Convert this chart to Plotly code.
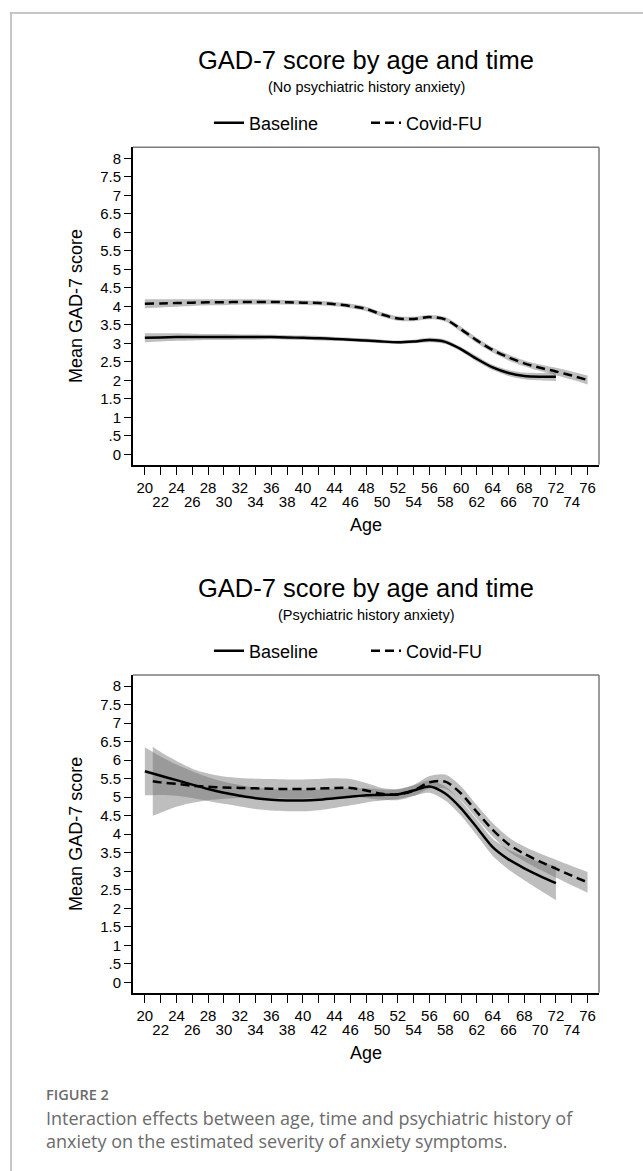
import plotly.graph_objects as go

# ---------------- data ----------------
# Panel A: no psychiatric history of anxiety
ages_a_base = [20, 22, 24, 26, 28, 30, 32, 34, 36, 38, 40, 42, 44, 46, 48, 50, 52, 54, 56, 58, 60, 62, 64, 66, 68, 70, 72]
mean_a_base = [3.15, 3.16, 3.17, 3.17, 3.17, 3.17, 3.17, 3.17, 3.17, 3.16, 3.15, 3.14, 3.12, 3.10, 3.08, 3.05, 3.03, 3.05, 3.09, 3.04, 2.84, 2.58, 2.35, 2.20, 2.12, 2.10, 2.10]
ci_a_base = [0.12, 0.11, 0.10, 0.09, 0.08, 0.08, 0.07, 0.07, 0.06, 0.06, 0.06, 0.06, 0.05, 0.05, 0.05, 0.05, 0.05, 0.05, 0.06, 0.06, 0.06, 0.07, 0.07, 0.08, 0.09, 0.10, 0.12]

ages_a_fu = [20, 22, 24, 26, 28, 30, 32, 34, 36, 38, 40, 42, 44, 46, 48, 50, 52, 54, 56, 58, 60, 62, 64, 66, 68, 70, 72, 74, 76]
mean_a_fu = [4.07, 4.08, 4.09, 4.10, 4.11, 4.11, 4.12, 4.12, 4.12, 4.11, 4.10, 4.09, 4.06, 4.01, 3.93, 3.78, 3.67, 3.66, 3.71, 3.65, 3.38, 3.08, 2.82, 2.62, 2.46, 2.34, 2.24, 2.13, 2.01]
ci_a_fu = [0.12, 0.11, 0.10, 0.09, 0.08, 0.08, 0.07, 0.07, 0.06, 0.06, 0.06, 0.06, 0.06, 0.06, 0.06, 0.06, 0.06, 0.06, 0.06, 0.06, 0.07, 0.07, 0.07, 0.08, 0.08, 0.09, 0.10, 0.11, 0.12]

# Panel B: psychiatric history of anxiety
ages_b_base = [20, 22, 24, 26, 28, 30, 32, 34, 36, 38, 40, 42, 44, 46, 48, 50, 52, 54, 56, 58, 60, 62, 64, 66, 68, 70, 72]
mean_b_base = [5.70, 5.58, 5.46, 5.34, 5.22, 5.12, 5.04, 4.97, 4.93, 4.91, 4.91, 4.93, 4.97, 5.01, 5.05, 5.06, 5.08, 5.18, 5.29, 5.10, 4.70, 4.18, 3.65, 3.32, 3.08, 2.87, 2.68]
ci_b_base = [0.65, 0.52, 0.42, 0.36, 0.32, 0.30, 0.29, 0.29, 0.29, 0.29, 0.29, 0.28, 0.26, 0.23, 0.19, 0.15, 0.13, 0.14, 0.17, 0.19, 0.20, 0.21, 0.23, 0.27, 0.32, 0.38, 0.46]

ages_b_fu = [21, 22, 24, 26, 28, 30, 32, 34, 36, 38, 40, 42, 44, 46, 48, 50, 52, 54, 56, 58, 60, 62, 64, 66, 68, 70, 72, 74, 76]
mean_b_fu = [5.43, 5.40, 5.36, 5.31, 5.28, 5.26, 5.25, 5.24, 5.23, 5.22, 5.22, 5.23, 5.25, 5.25, 5.18, 5.09, 5.07, 5.18, 5.40, 5.42, 5.10, 4.60, 4.12, 3.73, 3.47, 3.26, 3.07, 2.88, 2.70]
ci_b_fu = [0.93, 0.82, 0.62, 0.46, 0.36, 0.30, 0.27, 0.26, 0.26, 0.26, 0.26, 0.26, 0.26, 0.24, 0.20, 0.16, 0.15, 0.15, 0.17, 0.19, 0.19, 0.18, 0.18, 0.19, 0.20, 0.22, 0.24, 0.26, 0.28]

x_ticks = list(range(20, 77, 2))
x_ticks_row1 = [a for a in x_ticks if (a - 20) % 4 == 0]
x_ticks_row2 = [a for a in x_ticks if (a - 20) % 4 == 2]
y_ticks = [i * 0.5 for i in range(17)]
y_ticklabels = ["0", ".5", "1", "1.5", "2", "2.5", "3", "3.5", "4", "4.5", "5", "5.5", "6", "6.5", "7", "7.5", "8"]

titles = ["GAD-7 score by age and time", "GAD-7 score by age and time"]
subtitles = ["(No psychiatric history anxiety)", "(Psychiatric history anxiety)"]
series_names = ["Baseline", "Covid-FU"]

# ---------------- styling ----------------
W, H = 643, 1171
FONT = "Liberation Sans, Arial, Helvetica, sans-serif"
BAND = "rgba(110,110,110,0.45)"
X_RANGE = [18.5, 77.45]
Y_RANGE = [-0.28, 8.3]
PX_L, PX_R = 133, 599
PANELS_PX = [(147.3, 464.7), (675.0, 992.7)]   # (top, bottom) of each plot region in px
TITLE_Y = [60, 588]
SUB_Y = [87, 615]
LEG_Y = [123, 651]


def py(px):
    return 1 - px / H


fig = go.Figure()

panels = [
    (ages_a_base, mean_a_base, ci_a_base, ages_a_fu, mean_a_fu, ci_a_fu),
    (ages_b_base, mean_b_base, ci_b_base, ages_b_fu, mean_b_fu, ci_b_fu),
]

for i, (ab, mb, cb, af, mf, cf) in enumerate(panels):
    xa = "x" if i == 0 else "x2"
    ya = "y" if i == 0 else "y2"
    leg = "legend" if i == 0 else "legend2"
    for ages, vals, hws in [(ab, mb, cb), (af, mf, cf)]:
        upper = [v + h for v, h in zip(vals, hws)]
        lower = [v - h for v, h in zip(vals, hws)]
        fig.add_trace(go.Scatter(x=ages, y=upper, xaxis=xa, yaxis=ya, mode="lines",
                                 line=dict(width=0, shape="spline", smoothing=0.8),
                                 showlegend=False, hoverinfo="skip", legend=leg))
        fig.add_trace(go.Scatter(x=ages, y=lower, xaxis=xa, yaxis=ya, mode="lines",
                                 line=dict(width=0, shape="spline", smoothing=0.8),
                                 fill="tonexty", fillcolor=BAND,
                                 showlegend=False, hoverinfo="skip", legend=leg))
    fig.add_trace(go.Scatter(x=ab, y=mb, xaxis=xa, yaxis=ya, mode="lines", name=series_names[0],
                             line=dict(color="black", width=2.5, shape="spline", smoothing=0.8),
                             legend=leg, legendrank=1))
    fig.add_trace(go.Scatter(x=af, y=mf, xaxis=xa, yaxis=ya, mode="lines", name=series_names[1],
                             line=dict(color="black", width=2.5, dash="9px,5px", shape="spline", smoothing=0.8),
                             legend=leg, legendrank=2))

layout = dict(
    width=W, height=H,
    margin=dict(l=0, r=0, t=0, b=0),
    paper_bgcolor="white", plot_bgcolor="white",
    font=dict(family=FONT, color="black"),
    showlegend=True,
)

axis_common_x = dict(range=X_RANGE, domain=[PX_L / W, PX_R / W], showgrid=False, zeroline=False,
                     automargin=False, fixedrange=True)
axis_common_y = dict(range=Y_RANGE, showgrid=False, zeroline=False, automargin=False,
                     tickvals=y_ticks, ticktext=y_ticklabels, ticks="outside", ticklen=7,
                     tickwidth=1.3, tickcolor="black", showline=True, linecolor="black", linewidth=2,
                     tickfont=dict(size=15, family=FONT, color="black"),
                     title=dict(text="Mean GAD-7 score", font=dict(size=18, family=FONT), standoff=13))

for i in range(2):
    top, bot = PANELS_PX[i]
    xname = "xaxis" if i == 0 else "xaxis2"
    yname = "yaxis" if i == 0 else "yaxis2"
    ovname = "xaxis3" if i == 0 else "xaxis4"
    yref = "y" if i == 0 else "y2"
    xref = "x" if i == 0 else "x2"
    layout[xname] = dict(axis_common_x, anchor=yref, tickvals=x_ticks,
                         ticktext=[str(a) if a in x_ticks_row1 else "" for a in x_ticks],
                         ticks="outside", ticklen=8, tickwidth=1.3, tickcolor="black",
                         showline=True, linecolor="black", linewidth=2,
                         tickfont=dict(size=15, family=FONT, color="black"),
                         title=dict(text="Age", font=dict(size=18, family=FONT), standoff=24))
    layout[yname] = dict(axis_common_y, anchor=xref, domain=[py(bot), py(top)])
    layout[ovname] = dict(axis_common_x, anchor=yref, overlaying=xref, tickvals=x_ticks_row2,
                          ticktext=[str(a) for a in x_ticks_row2],
                          ticks="outside", ticklen=8, tickcolor="rgba(0,0,0,0)",
                          ticklabelstandoff=15, showline=False,
                          tickfont=dict(size=15, family=FONT, color="black"))

for i, lname in enumerate(["legend", "legend2"]):
    layout[lname] = dict(orientation="h", x=(PX_L + PX_R) / 2 / W, xanchor="center",
                         y=py(LEG_Y[i]), yanchor="middle", font=dict(size=18, family=FONT),
                         bgcolor="rgba(0,0,0,0)", traceorder="normal",
                         entrywidth=112, entrywidthmode="pixels")

fig.update_layout(**layout)

# invisible traces so overlay axes are drawn
for ov, yr in [("x3", "y"), ("x4", "y2")]:
    fig.add_trace(go.Scatter(x=[X_RANGE[0]], y=[Y_RANGE[0]], xaxis=ov, yaxis=yr, mode="markers",
                             marker=dict(opacity=0), showlegend=False, hoverinfo="skip"))

annotations = []
for i in range(2):
    cx = (PX_L + PX_R) / 2 / W
    annotations.append(dict(text=titles[i], x=cx, y=py(TITLE_Y[i]), xref="paper", yref="paper",
                            xanchor="center", yanchor="middle", showarrow=False,
                            font=dict(size=25.5, family=FONT, color="black")))
    annotations.append(dict(text=subtitles[i], x=cx, y=py(SUB_Y[i]), xref="paper", yref="paper",
                            xanchor="center", yanchor="middle", showarrow=False,
                            font=dict(size=14.5, family=FONT, color="black")))

CAP_FONT = "Open Sans, Noto Sans, sans-serif"
annotations.append(dict(text="FIGURE 2", x=44 / W, y=py(1094), xref="paper", yref="paper",
                        xanchor="left", yanchor="middle", showarrow=False,
                        font=dict(size=14.5, family=CAP_FONT, color="#6b6b6b", weight=600)))
annotations.append(dict(text="Interaction effects between age, time and psychiatric history of",
                        x=44 / W, y=py(1118), xref="paper", yref="paper",
                        xanchor="left", yanchor="middle", showarrow=False,
                        font=dict(size=18, family=CAP_FONT, color="#6b6b6b")))
annotations.append(dict(text="anxiety on the estimated severity of anxiety symptoms.",
                        x=44 / W, y=py(1141), xref="paper", yref="paper",
                        xanchor="left", yanchor="middle", showarrow=False,
                        font=dict(size=18, family=CAP_FONT, color="#6b6b6b")))

shapes = []
for i in range(2):
    xd = "x domain" if i == 0 else "x2 domain"
    yd = "y domain" if i == 0 else "y2 domain"
    shapes.append(dict(type="line", xref=xd, yref=yd, x0=0, x1=1, y0=1, y1=1,
                       line=dict(color="#7a7a7a", width=1.5)))
    shapes.append(dict(type="line", xref=xd, yref=yd, x0=1, x1=1, y0=0, y1=1,
                       line=dict(color="#7a7a7a", width=1.5)))
# outer page frame
shapes.append(dict(type="line", xref="paper", yref="paper", x0=10 / W, x1=1, y0=py(13), y1=py(13),
                   line=dict(color="#b5b5b5", width=1.5)))
shapes.append(dict(type="line", xref="paper", yref="paper", x0=11 / W, x1=11 / W, y0=0, y1=py(13),
                   line=dict(color="#b5b5b5", width=1.5)))

fig.update_layout(annotations=annotations, shapes=shapes)

fig.write_html("out.html", config={"displayModeBar": False},
               post_script="document.body.style.margin='0px';")
